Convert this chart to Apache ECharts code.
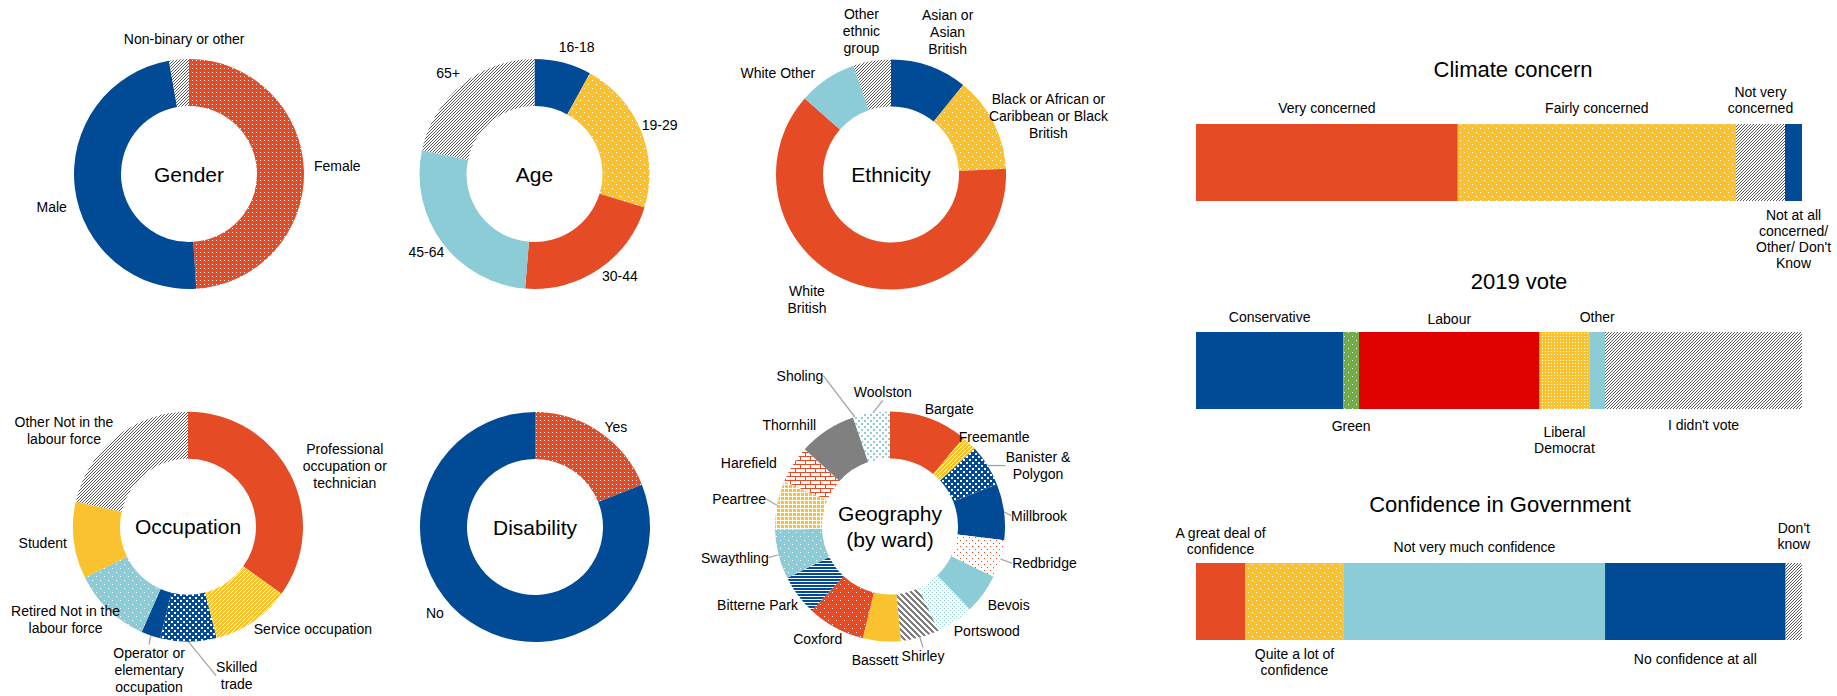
<!DOCTYPE html>
<html><head><meta charset="utf-8">
<script src="https://cdn.jsdelivr.net/npm/echarts@6/dist/echarts.min.js"></script>
<style>html,body{margin:0;padding:0;background:#fff}#c{width:1837px;height:696px}</style>
</head><body><div id="c"></div>
<script>
// ---------------- data ----------------
const genderNames = ['Female', 'Male', 'Non-binary or other'];
const genderValues = [49, 48.2, 2.8];

const ageNames = ['16-18', '19-29', '30-44', '45-64', '65+'];
const ageValues = [8, 21.7, 21.6, 27, 21.7];

const ethnicityNames = ['Asian or\nAsian\nBritish', 'Black or African or\nCaribbean or Black\nBritish', 'White\nBritish', 'White Other', 'Other\nethnic\ngroup'];
const ethnicityValues = [10.8, 13.4, 62.3, 8.2, 5.3];

const occupationNames = ['Professional\noccupation or\ntechnician', 'Service occupation', 'Skilled\ntrade', 'Operator or\nelementary\noccupation', 'Retired Not in the\nlabour force', 'Student', 'Other Not in the\nlabour force'];
const occupationValues = [34.9, 11.1, 7.9, 2.7, 11.1, 10.8, 21.5];

const disabilityNames = ['Yes', 'No'];
const disabilityValues = [19, 81];

const wardNames = ['Bargate', 'Freemantle', 'Banister &\nPolygon', 'Millbrook', 'Redbridge', 'Bevois', 'Portswood', 'Shirley', 'Bassett', 'Coxford', 'Bitterne Park', 'Swaythling', 'Peartree', 'Harefield', 'Thornhill', 'Sholing', 'Woolston'];
const wardValues = [11, 2.2, 5.8, 7.9, 5.3, 5.6, 5.3, 5.4, 5.3, 8.1, 5.7, 6.9, 6.9, 5.3, 8.1, 0.5, 4.7];

const climateNames = ['Very concerned', 'Fairly concerned', 'Not very\nconcerned', "Not at all\nconcerned/\nOther/ Don't\nKnow"];
const climateValues = [43.2, 45.9, 8.1, 2.8];

const voteNames = ['Conservative', 'Green', 'Labour', 'Liberal\nDemocrat', 'Other', "I didn't vote"];
const voteValues = [24.3, 2.6, 29.8, 8.2, 2.6, 32.5];

const confidenceNames = ['A great deal of\nconfidence', 'Quite a lot of\nconfidence', 'Not very much confidence', 'No confidence at all', "Don't\nknow"];
const confidenceValues = [8.1, 16.3, 43.1, 29.8, 2.7];

// ---------------- styles ----------------
const SANS = '"Liberation Sans", Arial, sans-serif';
const RED = '#E54B25', BLUE = '#014B96', YELLOW = '#FAC22E', LBLUE = '#8BCCD6', GRAY = '#808080', GREEN = '#70AD47', LAB = '#E00000';

function tile(w, h, bg, draw) {
  const c = document.createElement('canvas'); c.width = w; c.height = h;
  const g = c.getContext('2d');
  if (bg) { g.fillStyle = bg; g.fillRect(0, 0, w, h); }
  draw(g);
  return { image: c, repeat: 'repeat' };
}
function sdots(bg, fg, s, d) { return tile(2 * s, 2 * s, bg, g => { g.fillStyle = fg; g.fillRect(0, 0, d, d); g.fillRect(s, s, d, d); }); }
function gdots(bg, fg, s, d) { return tile(s, s, bg, g => { g.fillStyle = fg; g.fillRect(0, 0, d, d); }); }
function diag(bg, fg, n, lw) { return tile(n, n, bg, g => { g.fillStyle = fg; for (let i = 0; i < n; i++) for (let k = 0; k < lw; k++) g.fillRect((i + k) % n, n - 1 - i, 1, 1); }); }
function bdiag(bg, fg, n, lw) { return tile(n, n, bg, g => { g.fillStyle = fg; for (let i = 0; i < n; i++) for (let k = 0; k < lw; k++) g.fillRect((i + k) % n, i, 1, 1); }); }

const FILL = {
  red: RED, blue: BLUE, yellow: YELLOW, lblue: LBLUE, gray: GRAY, labour: LAB,
  hatch: diag('#ffffff', '#555555', 3, 1),
  redDots: gdots(RED, '#ffffff', 4, 1),
  redDotsSparse: sdots(RED, '#ffffff', 4, 1),
  yellowDots: sdots(YELLOW, '#ffffff', 4, 1),
  yellowDotsDense: gdots(YELLOW, '#ffffff', 3, 1),
  yellowStripes: diag(YELLOW, '#ffffff', 4, 1),
  yellowGrid: tile(4, 4, YELLOW, g => { g.fillStyle = '#ffffff'; g.fillRect(0, 0, 4, 1); g.fillRect(0, 0, 1, 4); }),
  lblueDots: sdots(LBLUE, '#ffffff', 4, 1),
  blueOnWhite: sdots(BLUE, '#ffffff', 3, 2),
  redOnWhite: sdots('#ffffff', RED, 3, 1),
  lblueOnWhite: sdots('#ffffff', LBLUE, 2, 1),
  lblueOnWhite2: sdots('#ffffff', LBLUE, 3, 2),
  grayStripes: bdiag('#ffffff', '#7f7f7f', 6, 3),
  blueLines: tile(1, 3, '#ffffff', g => { g.fillStyle = BLUE; g.fillRect(0, 0, 1, 2); }),
  bricks: tile(10, 8, '#ffffff', g => { g.fillStyle = RED; g.fillRect(0, 0, 10, 1); g.fillRect(0, 4, 10, 1); g.fillRect(0, 0, 1, 4); g.fillRect(5, 4, 1, 4); }),
  greenDots: sdots(GREEN, '#ffffff', 4, 1)
};

const genderFills = ['redDots', 'blue', 'hatch'];
const ageFills = ['blue', 'yellowDots', 'red', 'lblue', 'hatch'];
const ethnicityFills = ['blue', 'yellowDots', 'red', 'lblue', 'hatch'];
const occupationFills = ['red', 'yellowStripes', 'blueOnWhite', 'blue', 'lblueDots', 'yellow', 'hatch'];
const disabilityFills = ['redDots', 'blue'];
const wardFills = ['red', 'yellowStripes', 'blueOnWhite', 'blue', 'redOnWhite', 'lblue', 'lblueOnWhite', 'grayStripes', 'yellow', 'redDotsSparse', 'blueLines', 'lblueDots', 'yellowGrid', 'bricks', 'gray', 'lblueOnWhite2', 'lblueOnWhite2'];
const climateFills = ['red', 'yellowDots', 'hatch', 'blue'];
const voteFills = ['blue', 'greenDots', 'labour', 'yellowDotsDense', 'lblue', 'hatch'];
const confidenceFills = ['red', 'yellowDots', 'lblue', 'blue', 'hatch'];

// label nudges (px) relative to library's outside-label placement
const genderNudge = [[0, -4.5], [2, 18.5], [71, -15]];
const ageNudge = [[-10.6, -11], [-9, -4], [-5, 3], [11, 6], [6, -7.6]];
const ethnicityNudge = [[-14, -29], [-14, -4], [-20, 12], [-4, -1.5], [14, -25.6]];
const occupationNudge = [[3, -6], [-7, 3], [22.7, 29], [40.7, 30], [20, 6], [3, 2], [5.4, -2.4]];
const disabilityNudge = [[-3, -1], [-18.7, -13]];
const wardNudge = [[-11, -4.6], [-19, -3], [9, 2.7], [-3, 4.6], [2, 3], [-4.4, 8], [-9, 5.5], [-24.7, 13.7], [22, 14], [14, 7], [9, 6.5], [0, 1.7], [-1, -5.4], [-7, 1], [-3, -1], [-25, -36.6], [44.5, -16]];

function pieSeries(names, values, fills, center, nudges, lines) {
  return {
    type: 'pie', center: center, radius: [68, 115], startAngle: 90, clockwise: true,
    avoidLabelOverlap: false, silent: true, animation: false,
    label: { show: true, position: 'outside', formatter: '{b}', fontFamily: SANS, fontSize: 14, lineHeight: 17, color: '#000', distanceToLabelLine: 5 },
    labelLine: { show: false, length: 5, length2: 0, lineStyle: { color: '#A6A6A6', width: 1.3 } },
    labelLayout: function (p) {
      const r = p.labelRect, d = nudges[p.dataIndex] || [0, 0];
      return { x: r.x + r.width / 2 + d[0], y: r.y + r.height / 2 + d[1], align: 'center', verticalAlign: 'middle' };
    },
    data: names.map((n, i) => ({
      name: n, value: values[i],
      itemStyle: { color: FILL[fills[i]] },
      labelLine: { show: lines.indexOf(i) >= 0 }
    }))
  };
}

function barSeries(names, values, fills, gi, positions, distances) {
  return names.map((n, i) => ({
    type: 'bar', name: n, stack: 'st' + gi, xAxisIndex: gi, yAxisIndex: gi,
    barWidth: '100%', silent: true, animation: false,
    itemStyle: { color: FILL[fills[i]] },
    label: { show: true, position: positions[i], distance: distances[i], formatter: n, fontFamily: SANS, fontSize: 14, lineHeight: 16, color: '#000' },
    data: [values[i]]
  }));
}

const grids = [
  { left: 1196, width: 606, top: 124, height: 77 },
  { left: 1196, width: 606, top: 332, height: 77 },
  { left: 1196, width: 606, top: 563, height: 77 }
];

const centers = {
  gender: [189, 174], age: [534.5, 174], ethnicity: [891, 174.5],
  occupation: [188, 526.7], disability: [535, 527], geography: [890, 526.5]
};

function centreText(text, c, lh) {
  return { type: 'text', x: c[0], y: c[1], silent: true,
    style: { text: text, fontFamily: SANS, fontSize: 21, lineHeight: lh || 26.7, fill: '#000', align: 'center', verticalAlign: 'middle' } };
}
function barTitle(text, x, y) {
  return { type: 'text', x: x, y: y, silent: true,
    style: { text: text, fontFamily: SANS, fontSize: 22, fill: '#000', align: 'center', verticalAlign: 'middle' } };
}

const option = {
  animation: false,
  backgroundColor: '#ffffff',
  grid: grids,
  xAxis: grids.map((g, i) => ({ type: 'value', gridIndex: i, min: 0, max: 100, show: false })),
  yAxis: grids.map((g, i) => ({ type: 'category', gridIndex: i, data: [''], show: false })),
  graphic: [
    centreText('Gender', centers.gender),
    centreText('Age', centers.age),
    centreText('Ethnicity', centers.ethnicity),
    centreText('Occupation', centers.occupation),
    centreText('Disability', centers.disability),
    centreText('Geography\n(by ward)', centers.geography),
    barTitle('Climate concern', 1513, 69),
    barTitle('2019 vote', 1519, 281),
    barTitle('Confidence in Government', 1500, 504)
  ],
  series: [
    pieSeries(genderNames, genderValues, genderFills, centers.gender, genderNudge, []),
    pieSeries(ageNames, ageValues, ageFills, centers.age, ageNudge, []),
    pieSeries(ethnicityNames, ethnicityValues, ethnicityFills, centers.ethnicity, ethnicityNudge, []),
    pieSeries(occupationNames, occupationValues, occupationFills, centers.occupation, occupationNudge, [2, 3]),
    pieSeries(disabilityNames, disabilityValues, disabilityFills, centers.disability, disabilityNudge, []),
    pieSeries(wardNames, wardValues, wardFills, centers.geography, wardNudge, [2, 3, 4, 7, 11, 12, 15, 16])
  ].concat(
    barSeries(climateNames, climateValues, climateFills, 0, ['top', 'top', 'top', 'bottom'], [8, 8, 8, 6]),
    barSeries(voteNames, voteValues, voteFills, 1, ['top', 'bottom', 'top', 'bottom', 'top', 'bottom'], [7, 9, 5, 15, 7, 8]),
    barSeries(confidenceNames, confidenceValues, confidenceFills, 2, ['top', 'bottom', 'top', 'bottom', 'top'], [6, 6, 8, 11, 11])
  )
};

const chart = echarts.init(document.getElementById('c'), null, { renderer: 'svg' });
chart.setOption(option);
</script>
</body></html>
